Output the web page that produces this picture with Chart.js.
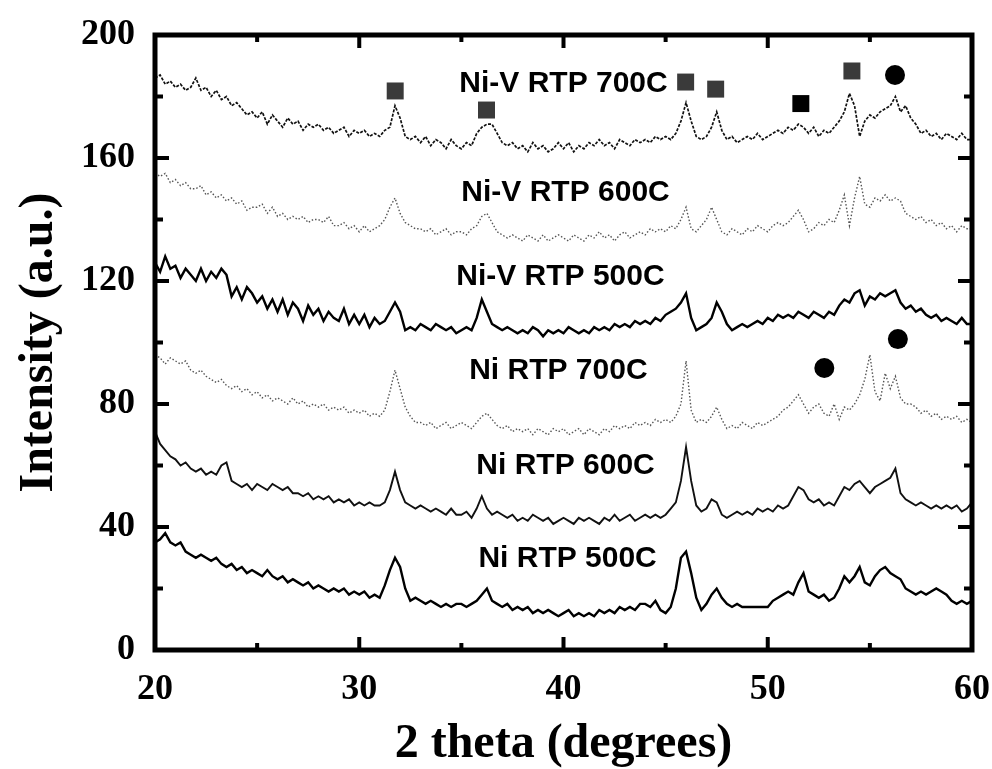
<!DOCTYPE html>
<html>
<head>
<meta charset="utf-8">
<script src="https://cdn.jsdelivr.net/npm/chart.js@4/dist/chart.umd.min.js"></script>
<style>
  html, body { margin: 0; padding: 0; background: #fff; }
  canvas { display: block; }
</style>
</head>
<body>
<canvas id="xrd" width="992" height="769"></canvas>
<script>
// 2 theta grid (degrees)
const twoTheta = [20,20.25,20.5,20.75,21,21.25,21.5,21.75,22,22.25,22.5,22.75,23,23.25,23.5,23.75,24,24.25,24.5,24.75,25,25.25,25.5,25.75,26,26.25,26.5,26.75,27,27.25,27.5,27.75,28,28.25,28.5,28.75,29,29.25,29.5,29.75,30,30.25,30.5,30.75,31,31.25,31.5,31.75,32,32.25,32.5,32.75,33,33.25,33.5,33.75,34,34.25,34.5,34.75,35,35.25,35.5,35.75,36,36.25,36.5,36.75,37,37.25,37.5,37.75,38,38.25,38.5,38.75,39,39.25,39.5,39.75,40,40.25,40.5,40.75,41,41.25,41.5,41.75,42,42.25,42.5,42.75,43,43.25,43.5,43.75,44,44.25,44.5,44.75,45,45.25,45.5,45.75,46,46.25,46.5,46.75,47,47.25,47.5,47.75,48,48.25,48.5,48.75,49,49.25,49.5,49.75,50,50.25,50.5,50.75,51,51.25,51.5,51.75,52,52.25,52.5,52.75,53,53.25,53.5,53.75,54,54.25,54.5,54.75,55,55.25,55.5,55.75,56,56.25,56.5,56.75,57,57.25,57.5,57.75,58,58.25,58.5,58.75,59,59.25,59.5,59.75,60];

// intensities (a.u., curves already offset)
const niV700 = [186,187,184,185, 183,184,182,183, 186,182,183,180, 182,179,180,177, 178,176,174,175,
  173,175,171,174, 172,170,173,171, 172,169,171,170, 171,169,170,168, 169,170,167,169,
  168,169,167,168, 167,169,170,177, 173,167,166,167, 165,167,164,166, 165,163,166,164,
  163,165,164,168, 170,171,171,168, 165,164,165,163, 164,162,165,163, 164,162,163,165,
  163,165,162,164, 163,165,164,166, 164,165,163,166, 165,164,166,165, 166,165,167,166,
  167,166,168,172, 178,172,167,166, 167,170,175,169, 166,167,165,166, 167,166,168,166,
  167,168,169,168, 170,169,171,170, 168,170,167,169, 168,170,172,175, 181,177,167,172,
  174,173,175,176, 177,180,175,177, 173,171,168,169, 167,168,166,168, 167,166,168,166, 166];

const niV600 = [155,154,155,152, 153,151,152,150, 150,151,148,149, 147,148,146,147, 145,146,143,144,
  144,145,142,144, 141,142,140,141, 140,141,139,140, 140,139,141,138, 138,139,137,138,
  136,138,136,137, 138,140,144,147, 142,139,138,137, 137,136,137,135, 136,137,135,136,
  136,135,137,138, 141,142,139,136, 135,134,135,134, 133,135,134,133, 135,133,134,135,
  134,133,135,134, 133,135,134,136, 134,135,133,135, 136,134,135,136, 135,137,136,137,
  136,138,137,140, 144,137,136,138, 140,144,140,136, 135,137,136,135, 137,136,138,137,
  136,138,139,138, 139,141,143,140, 136,137,139,138, 140,139,143,148, 138,147,154,145,
  144,147,146,148, 146,147,146,142, 141,140,141,139, 140,138,139,137, 138,136,138,137, 137];

const niV500 = [126,123,128,124, 125,121,124,122, 120,124,120,123, 121,124,122,115, 118,114,118,116,
  113,115,111,114, 110,114,109,113, 111,107,112,109, 111,107,110,108, 107,111,106,109,
  106,109,105,108, 106,107,110,113, 110,104,105,104, 106,105,104,106, 105,104,105,103,
  104,105,104,108, 114,110,106,105, 104,105,104,103, 104,103,105,104, 102,104,103,104,
  103,105,104,103, 104,103,105,104, 105,104,106,105, 106,105,107,106, 107,106,108,107,
  109,110,111,113, 116,108,104,105, 106,108,113,110, 106,104,105,106, 105,106,107,106,
  108,107,109,108, 109,108,110,109, 108,110,109,108, 110,109,112,114, 113,116,117,112,
  115,114,116,115, 116,117,113,111, 112,110,111,109, 108,109,107,108, 107,106,108,106, 106];

const ni700 = [96,95,93,95, 94,93,94,91, 90,91,89,88, 87,88,86,85, 86,84,85,83,
  84,82,83,81, 82,81,80,82, 80,81,79,80, 79,80,78,79, 78,79,77,78,
  77,78,76,77, 76,78,84,91, 85,79,76,74, 74,73,74,72, 73,74,72,73,
  74,73,72,74, 76,77,75,73, 72,73,71,72, 71,72,70,72, 71,70,72,71,
  72,70,71,72, 70,72,71,70, 72,71,73,72, 73,72,74,73, 74,73,75,74,
  75,74,76,80, 94,78,74,75, 74,76,79,75, 72,73,72,74, 73,72,74,73,
  74,75,76,78, 79,81,83,80, 77,79,80,77, 76,80,75,79, 78,80,83,88,
  96,84,81,90, 85,89,82,80, 80,79,77,78, 76,77,75,76, 75,76,74,75, 74];

const ni600 = [71,67,65,63, 62,60,61,59, 58,59,57,58, 57,60,61,55, 54,53,54,52,
  54,53,52,54, 53,52,53,51, 51,50,51,49, 50,49,50,48, 49,48,49,47,
  48,47,48,47, 47,48,52,58, 52,48,47,46, 47,46,45,46, 45,44,46,44,
  44,45,43,46, 50,46,44,45, 44,43,44,42, 43,42,44,43, 42,43,41,42,
  43,42,41,43, 42,43,42,41, 43,42,44,42, 43,44,42,43, 44,43,44,43,
  44,46,48,55, 66,55,47,45, 46,49,48,44, 43,44,45,44, 45,44,46,45,
  46,45,47,46, 47,50,53,52, 49,48,49,47, 48,47,50,53, 52,54,55,53,
  51,53,54,55, 56,59,51,49, 48,47,48,47, 46,47,46,47, 46,47,45,46, 48];

const ni500 = [35,36,38,35, 34,35,32,31, 30,31,30,29, 30,28,27,28, 26,27,25,26,
  25,24,26,24, 23,24,22,23, 22,21,22,20, 21,20,19,20, 19,20,18,19,
  18,19,17,18, 17,21,26,30, 27,20,16,17, 16,15,16,15, 14,15,14,15,
  15,14,15,16, 18,20,16,15, 14,15,13,14, 13,14,12,13, 12,13,12,11,
  12,13,11,12, 11,12,11,13, 12,13,12,14, 13,14,13,15, 15,14,16,13,
  12,14,20,30, 32,25,17,13, 15,18,20,17, 15,14,15,14, 14,14,14,14,
  14,16,17,18, 19,18,22,25, 19,18,17,18, 16,17,20,24, 22,24,27,22,
  21,24,26,27, 25,24,23,20, 19,18,19,18, 19,20,19,18, 16,15,16,15, 16];

// phase markers
const squareX = [31.76, 36.23, 45.98, 47.45, 54.12];
const squareY = [181.8, 175.6, 184.7, 182.4, 188.3];
const solidSquareX = [51.62];
const solidSquareY = [177.7];
const circleX = [56.23, 56.37, 52.77];
const circleY = [187, 101.1, 91.7];

// curve labels
const labelText = ['Ni-V RTP 700C', 'Ni-V RTP 600C', 'Ni-V RTP 500C', 'Ni RTP 700C', 'Ni RTP 600C', 'Ni RTP 500C'];
const labelX = [40.0, 40.1, 39.85, 39.75, 40.1, 40.2];
const labelY = [184.1, 148.6, 121.3, 90.7, 59.8, 29.6];

// axis tick positions
const xMajor = [30, 40, 50];
const xMinor = [25, 35, 45, 55];
const yMajor = [40, 80, 120, 160];
const yMinor = [20, 60, 100, 140, 180];

function toPoints(xs, ys) {
    return ys.map((v, i) => ({ x: xs[i], y: v }));
}

function curve(values, color, width, dash) {
    return {
        data: toPoints(twoTheta, values),
        borderColor: color,
        borderWidth: width,
        borderDash: dash,
        pointRadius: 0,
        tension: 0,
        fill: false
    };
}

function markers(xs, ys, style, radius, color) {
    return {
        data: toPoints(xs, ys),
        showLine: false,
        pointStyle: style,
        pointRadius: radius,
        pointBackgroundColor: color,
        pointBorderColor: color,
        pointBorderWidth: 0
    };
}

const serif = 'Liberation Serif';

// frame, inward ticks and curve labels
const framePlugin = {
    id: 'frame',
    afterDatasetsDraw(chart) {
        const { ctx, chartArea: a, scales: { x, y } } = chart;
        ctx.save();
        ctx.strokeStyle = '#000';
        ctx.lineWidth = 4;
        ctx.beginPath();
        const tickX = (v, len) => {
            const px = x.getPixelForValue(v);
            ctx.moveTo(px, a.bottom); ctx.lineTo(px, a.bottom - len);
            ctx.moveTo(px, a.top); ctx.lineTo(px, a.top + len);
        };
        const tickY = (v, len) => {
            const py = y.getPixelForValue(v);
            ctx.moveTo(a.left, py); ctx.lineTo(a.left + len, py);
            ctx.moveTo(a.right, py); ctx.lineTo(a.right - len, py);
        };
        xMajor.forEach(v => tickX(v, 13));
        xMinor.forEach(v => tickX(v, 7));
        yMajor.forEach(v => tickY(v, 14));
        yMinor.forEach(v => tickY(v, 8));
        ctx.stroke();
        ctx.lineWidth = 5;
        ctx.strokeRect(a.left, a.top, a.right - a.left, a.bottom - a.top);

        ctx.fillStyle = '#000';
        ctx.font = 'bold 30px "Liberation Sans"';
        ctx.textAlign = 'center';
        ctx.textBaseline = 'middle';
        labelText.forEach((t, i) => {
            ctx.fillText(t, x.getPixelForValue(labelX[i]), y.getPixelForValue(labelY[i]));
        });
        ctx.restore();
    }
};

const ctx = document.getElementById('xrd').getContext('2d');

new Chart(ctx, {
    type: 'line',
    data: {
        datasets: [
            curve(niV700, '#111', 1.7, [3, 1.5]),
            curve(niV600, '#555', 1.4, [1.5, 2]),
            curve(niV500, '#000', 2.4, []),
            curve(ni700, '#555', 1.4, [1.5, 2]),
            curve(ni600, '#111', 1.9, []),
            curve(ni500, '#000', 2.4, []),
            markers(squareX, squareY, 'rect', 12, '#3a3a3a'),
            markers(solidSquareX, solidSquareY, 'rect', 12, '#000'),
            markers(circleX, circleY, 'circle', 10, '#000')
        ]
    },
    options: {
        responsive: false,
        animation: false,
        layout: { padding: { left: 0, right: 20, top: 35, bottom: 0 } },
        plugins: {
            legend: { display: false },
            tooltip: { enabled: false }
        },
        scales: {
            x: {
                type: 'linear',
                min: 20,
                max: 60,
                // fixed axis box; edge labels may overhang the plot
                afterFit: s => { s.height = 119; s.paddingLeft = 0; s.paddingRight = 0; },
                grid: { display: false },
                border: { display: false },
                ticks: {
                    stepSize: 10,
                    padding: 14,
                    maxRotation: 0,
                    color: '#000',
                    font: { family: serif, weight: 'bold', size: 36, lineHeight: 1 }
                },
                title: {
                    display: true,
                    text: '2 theta (degrees)',
                    color: '#000',
                    padding: { top: 0, bottom: 0 },
                    font: { family: serif, weight: 'bold', size: 48, lineHeight: 1 }
                }
            },
            y: {
                min: 0,
                max: 200,
                afterFit: s => { s.width = 155; s.paddingTop = 0; s.paddingBottom = 0; },
                grid: { display: false },
                border: { display: false },
                ticks: {
                    stepSize: 40,
                    padding: 12,
                    color: '#000',
                    font: { family: serif, weight: 'bold', size: 36, lineHeight: 1 }
                },
                title: {
                    display: true,
                    text: 'Intensity (a.u.)',
                    color: '#000',
                    padding: { top: 16, bottom: 0 },
                    font: { family: serif, weight: 'bold', size: 48, lineHeight: 1 }
                }
            }
        }
    },
    plugins: [framePlugin]
});
</script>
</body>
</html>
